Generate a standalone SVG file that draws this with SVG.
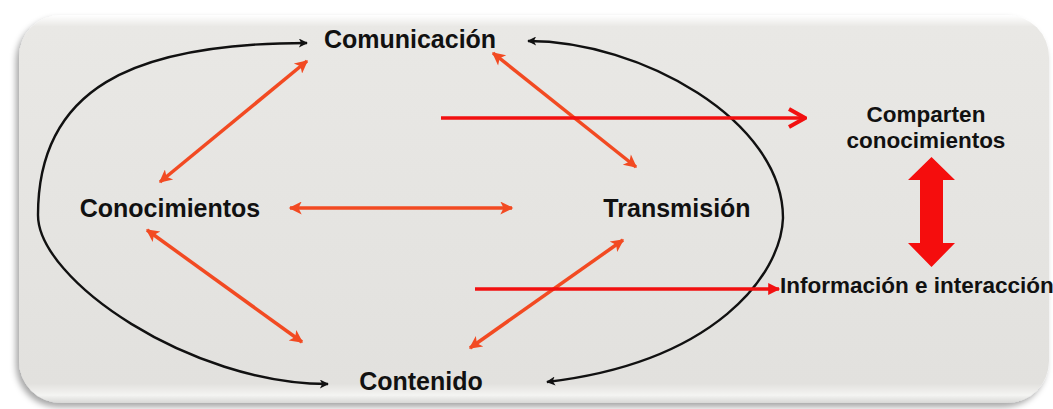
<svg xmlns="http://www.w3.org/2000/svg" width="1053" height="409" viewBox="0 0 1053 409">
<style>
.lbl{font-family:"Liberation Sans",Arial,sans-serif;font-weight:bold;fill:#111;}
.big{font-size:25px;}
.sm{font-size:22.5px;}
.blk{fill:none;stroke:#111;stroke-width:2.4;}
.org{fill:none;stroke:#f24a22;stroke-width:3.5;}
.red{fill:none;stroke:#f21010;stroke-width:3.5;}
</style>
<defs>
<linearGradient id="bg" x1="0" y1="0" x2="0" y2="1">
<stop offset="0" stop-color="#ffffff"/>
<stop offset="0.03" stop-color="#e9e8e5"/>
<stop offset="0.95" stop-color="#e2e1de"/>
<stop offset="0.98" stop-color="#f4f4f2"/>
<stop offset="1" stop-color="#d8d8d6"/>
</linearGradient>
<filter id="sh" x="-5%" y="-5%" width="110%" height="115%">
<feDropShadow dx="-3" dy="4" stdDeviation="3" flood-color="#000" flood-opacity="0.35"/>
</filter>
<marker id="mb" viewBox="0 0 10 10" refX="9" refY="5" markerWidth="11" markerHeight="9" markerUnits="userSpaceOnUse" orient="auto-start-reverse">
<path d="M0,0 L10,5 L0,10 L2.5,5 Z" fill="#111"/>
</marker>
<marker id="mo" viewBox="0 0 10 10" refX="9" refY="5" markerWidth="16" markerHeight="13" markerUnits="userSpaceOnUse" orient="auto-start-reverse">
<path d="M0,0 L10,5 L0,10 L2.5,5 Z" fill="#f24a22"/>
</marker>
<marker id="mr" viewBox="0 0 10 10" refX="9" refY="5" markerWidth="14" markerHeight="12" markerUnits="userSpaceOnUse" orient="auto">
<path d="M0,0 L10,5 L0,10 Z" fill="#f21010"/>
</marker>
<marker id="mc" viewBox="0 0 20 22" refX="18" refY="11" markerWidth="20" markerHeight="22" markerUnits="userSpaceOnUse" orient="auto">
<path d="M2,2 L18,11 L2,20" fill="none" stroke="#f21010" stroke-width="4" stroke-linejoin="miter"/>
</marker>
</defs>
<rect x="0" y="0" width="1053" height="409" fill="#ffffff"/>
<rect x="19" y="15" width="1030" height="388" rx="42" ry="42" fill="url(#bg)" filter="url(#sh)"/>

<g id="connectors">
<path class="blk" d="M307,43 C130,43 38,90 38,215 C38,280 190,384 328,384" marker-start="url(#mb)" marker-end="url(#mb)"/>
<path class="blk" d="M547,382 C715,362 781,275 783,218 C783,120 640,41 528,41" marker-start="url(#mb)" marker-end="url(#mb)"/>
<line class="org" x1="160" y1="182" x2="307" y2="61" marker-start="url(#mo)" marker-end="url(#mo)"/>
<line class="org" x1="493" y1="53" x2="636" y2="167" marker-start="url(#mo)" marker-end="url(#mo)"/>
<line class="org" x1="290" y1="208" x2="512" y2="208" marker-start="url(#mo)" marker-end="url(#mo)"/>
<line class="org" x1="147" y1="230" x2="302" y2="342" marker-start="url(#mo)" marker-end="url(#mo)"/>
<line class="org" x1="623" y1="240" x2="470" y2="348" marker-start="url(#mo)" marker-end="url(#mo)"/>
<line class="red" x1="441" y1="118" x2="805" y2="118" marker-end="url(#mc)"/>
<line class="red" x1="475" y1="289" x2="779" y2="289" marker-end="url(#mr)"/>
<polygon id="bigarrow" points="931.5,157 955,180 943,180 943,243 955,243 931.5,267 908,243 920,243 920,180 908,180" fill="#f50d0d"/>
</g>

<g id="comunicacion"><text class="lbl big" x="410" y="48" text-anchor="middle">Comunicación</text></g>
<g id="conocimientos"><text class="lbl big" x="170" y="217" text-anchor="middle">Conocimientos</text></g>
<g id="transmision"><text class="lbl big" x="677" y="217" text-anchor="middle">Transmisión</text></g>
<g id="contenido"><text class="lbl big" x="421" y="390" text-anchor="middle">Contenido</text></g>
<g id="comparten"><text class="lbl sm" x="926" y="122" text-anchor="middle">Comparten</text><text class="lbl sm" x="926" y="148" text-anchor="middle">conocimientos</text></g>
<g id="informacion"><text class="lbl sm" x="780" y="293">Información e interacción</text></g>
</svg>
